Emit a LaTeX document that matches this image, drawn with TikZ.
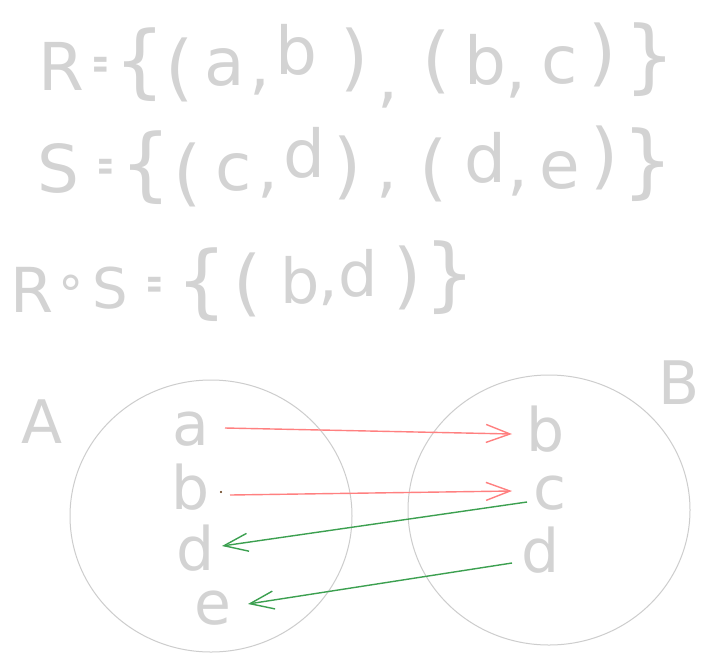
\documentclass[tikz,border=0pt]{standalone}
\usepackage{fontspec}
\setmainfont{DejaVu Sans}
\usetikzlibrary{shapes.geometric,arrows.meta}
\definecolor{hand}{RGB}{211,211,211}
\definecolor{ring}{RGB}{205,205,205}
\definecolor{redarr}{RGB}{255,128,128}
\definecolor{greenarr}{RGB}{60,160,80}
\definecolor{dotc}{RGB}{90,50,10}
\newcommand{\narroweq}{\scalebox{0.45}[1]{\bfseries =}}
\tikzset{
  hw/.style={text=hand, inner sep=0pt},
  elem/.style={text=hand, inner sep=0pt, font=\fontsize{60}{64}\selectfont},
  setlabel/.style={text=hand, inner sep=0pt, font=\fontsize{60}{64}\selectfont},
  setring/.style={draw=ring, line width=1pt, ellipse, inner sep=0pt},
  rarr/.style={draw=redarr, line width=1.4pt, -{Straight Barb[length=24pt,width=18pt]}},
  garr/.style={draw=greenarr, line width=1.4pt, -{Straight Barb[length=24pt,width=18pt]}}
}
\begin{document}
\begin{tikzpicture}[x=1pt,y=-1pt]
\useasboundingbox[fill=white] (0,0) rectangle (706,662);
% line 1: R={(a,b),(b,c)}
\foreach \x/\y/\c/\s [count=\i] in {61/66/R/66, 101/68/\narroweq/44, 140/65/\{/80, 180/70/(/72,
   225/67/a/66, 260/87/{,}/66, 296/50/b/66, 355/60/)/72, 388/100/{,}/66,
   437/62/(/72, 485/60/b/66, 516/90/{,}/66, 560/65/c/66, 603/55/)/72, 650/60/\}/80}
  \node[hw, font=\fontsize{\s}{\s}\selectfont] (ra\i) at (\x,\y) {\c};
% line 2: S={(c,d),(d,e)}
\foreach \x/\y/\c/\s [count=\i] in {58/168/S/66, 106/170/\narroweq/44, 146/168/\{/80, 188/175/(/72,
   234/172/c/66, 268/190/{,}/66, 304/153/d/66, 348/168/)/72, 387/190/{,}/66,
   434/170/(/72, 485/158/d/66, 518/188/{,}/66, 560/170/e/66, 605/158/)/72, 648/165/\}/80}
  \node[hw, font=\fontsize{\s}{\s}\selectfont] (sb\i) at (\x,\y) {\c};
% line 3: R o S={(b,d)}
\foreach \x/\y/\c/\s [count=\i] in {32/290/R/62, 71/287/∘/50, 110/288/S/56, 155/288/\narroweq/44,
   202/285/\{/80, 248/285/(/72, 300/280/b/62, 328/298/{,}/62, 358/273/d/62,
   408/278/)/72, 450/278/\}/80}
  \node[hw, font=\fontsize{\s}{\s}\selectfont] (rs\i) at (\x,\y) {\c};
% sets
\node[setring, minimum width=282pt, minimum height=272pt] (setA) at (211,516) {};
\node[setring, minimum width=282pt, minimum height=270pt] (setB) at (549,510) {};
\node[setlabel] (labA) at (42,422) {A};
\node[setlabel] (labB) at (679,383) {B};
% elements
\node[elem] (Aa) at (191,429) {a};
\node[elem] (Ab) at (191,487) {b};
\node[elem] (Ad) at (196,548) {d};
\node[elem] (Ae) at (213,608) {e};
\node[elem] (Bb) at (546,429) {b};
\node[elem] (Bc) at (550,493) {c};
\node[elem] (Bd) at (541,550) {d};
\fill[dotc] (221,492) circle (1.2pt);
% arrows
\draw[rarr] ([shift={(34,-1)}]Aa.center) -- ([shift={(-34,5)}]Bb.center);
\draw[rarr] ([shift={(39,8)}]Ab.center) -- ([shift={(-38,-2)}]Bc.center);
\draw[garr] ([shift={(-23,9)}]Bc.center) -- ([shift={(26,-2)}]Ad.center);
\draw[garr] ([shift={(-29,13)}]Bd.center) -- ([shift={(35,-4)}]Ae.center);
\end{tikzpicture}
\end{document}
